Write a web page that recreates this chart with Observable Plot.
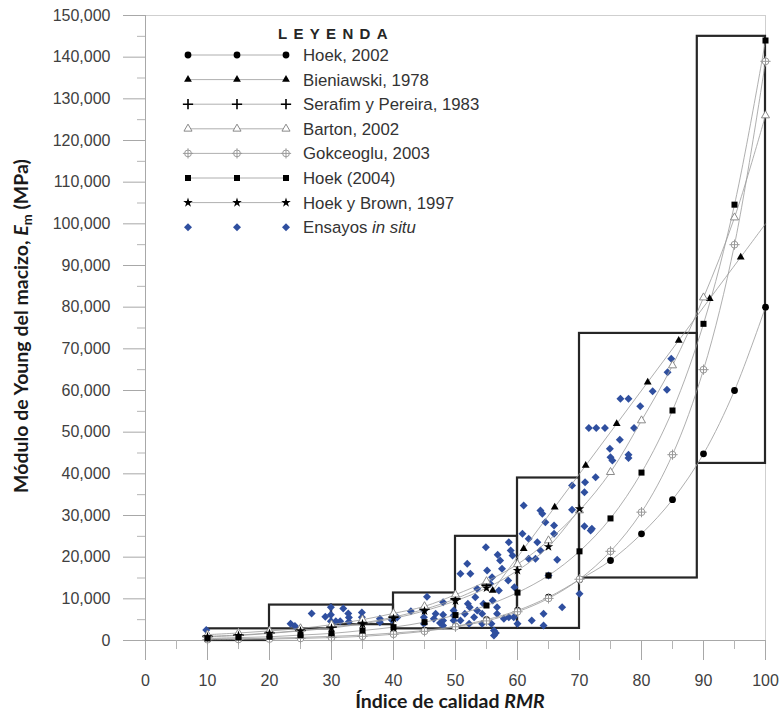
<!DOCTYPE html>
<html><head><meta charset="utf-8">
<script src="https://cdn.jsdelivr.net/npm/d3@7"></script>
<script src="https://cdn.jsdelivr.net/npm/@observablehq/plot@0.6"></script>
<style>
html,body{margin:0;padding:0;background:#fff;}
#chart{width:781px;height:713px;}
</style></head><body><div id="chart"></div>
<script>
// ---------- DATA ----------
const rmr = [10,15,20,25,30,35,40,45,50,55,60,65,70,75,80,85,90,95,100];
const hoek2002 = [300,400,550,750,1000,1300,1800,2400,3400,5000,7200,10400,14600,19200,25600,33800,44800,60000,80000];
const bieniawskiX = [56,61,66,71,76,81,86,91,96,100];
const bieniawski1978 = [12000,22000,32000,42000,52000,62000,72000,82000,92000,100000];
const serafimX = [10,15,20,25,30,35,40,45,50,55];
const serafim1983 = [1000,1300,1800,2400,3200,4200,5600,7500,10000,13300];
const barton2002 = [1400,1800,2300,2900,3800,5000,6500,8200,11000,14200,18300,24000,31200,40400,52800,66000,82300,101500,126000];
const gokceoglu2003 = [200,250,350,500,700,1000,1500,2200,3300,4700,6900,10100,14700,21400,30800,44600,65000,95000,139000];
const hoek2004 = [500,700,900,1300,1700,2400,3200,4400,6100,8400,11500,15600,21400,29300,40300,55200,76000,104600,144000];
const hoekBrownX = [10,15,20,25,30,35,40,45,50,55,60,65,70];
const hoekBrown1997 = [900,1200,1700,2300,3000,4000,5300,7100,9500,12600,16800,22500,31600];

// In-situ tests: [RMR, Em]
const insituRMR = [9.8,23.4,24.1,26.8,29,29.9,29.9,29.9,30.7,31.4,31.9,32.7,32.8,32.8,34.9,34.9,34.9,37.8,37.8,39.7,40.6,42.8,45.4,44.9,44.9,44.9,46.5,46.8,47.5,48,48,48,48,49.7,49.7,49.7,
 50.8,51.9,52.4,52,52.3,50.8,52.2,53.2,53.5,54.9,55.1,55.9,55.6,56.8,57.2,57.5,56,56.7,56.7,54.3,54.3,55.8,56.2,56.2,56.5,57.8,58.6,59.4,58.6,58.9,59.2,60,51.5,53,53.5,54.5,58.5,59.5,57,
 60.8,61,61.8,61.8,62.9,63.2,62.3,63.7,64,64.5,63.7,64.2,64.2,65,65.9,65.9,66.4,67.2,68.8,68.8,70,
 70.9,70.8,72.6,70.8,71.8,72,71.5,72.7,74.1,74.9,75,75.3,76.5,77.9,77.9,76.6,77.9,78.8,79.8,81.8,84.1,84.2,84.8];
const insituEm = [2500,4000,3500,6500,5700,8000,6200,4600,4600,4600,7700,6500,5500,4500,6700,5600,4500,5200,4400,5000,5500,7000,10500,7200,5600,4000,5200,6400,4200,9200,6200,4800,3600,7200,6000,4800,
 16000,18400,16000,8800,8000,4800,4000,10400,12400,22400,16800,15200,13600,20600,19200,17200,9600,8000,6400,6400,4000,4000,2400,1200,1800,5200,5600,5600,23600,21600,20400,4000,6400,5600,7200,8800,14400,12800,12000,
 25600,32400,24400,19600,19600,23600,4800,31200,30400,28400,21600,6400,3600,15600,27600,25600,19400,8000,37200,31400,11200,
 38000,35600,39200,27400,26400,26800,51000,51000,51000,46000,44000,43200,48200,44600,43800,58000,58000,51000,56200,59800,60200,64400,67600];

// Range boxes per RMR class
const boxFrom = [10,20,30,40,50,60,70,89];
const boxTo   = [20,30,40,50,60,70,89,100];
const boxLow  = [0,2800,3800,2800,2900,2900,15000,42500];
const boxHigh = [2800,8500,8500,11400,25000,39000,73700,145000];

const xTicks = [0,10,20,30,40,50,60,70,80,90,100];
const yTicks = [0,10000,20000,30000,40000,50000,60000,70000,80000,90000,100000,110000,120000,130000,140000,150000];

// ---------- BUILD ----------
const mk = (name, xs, ys) => xs.map((x,i)=>({series:name, x, y:ys[i]}));
const S = {
  h02: mk("Hoek, 2002", rmr, hoek2002),
  bie: mk("Bieniawski, 1978", bieniawskiX, bieniawski1978),
  ser: mk("Serafim y Pereira, 1983", serafimX, serafim1983),
  bar: mk("Barton, 2002", rmr, barton2002),
  gok: mk("Gokceoglu, 2003", rmr, gokceoglu2003),
  h04: mk("Hoek (2004)", rmr, hoek2004),
  hb:  mk("Hoek y Brown, 1997", hoekBrownX, hoekBrown1997)
};
const allLines = Object.values(S).flat();
const insitu = insituRMR.map((x,i)=>({x, y:insituEm[i]}));
const boxes = boxFrom.map((x1,i)=>({x1, x2:boxTo[i], y1:boxLow[i], y2:boxHigh[i]}));

const BLUE = "#2f4f9f";
const plot = Plot.plot({
  width: 781, height: 713,
  marginLeft: 145, marginRight: 16, marginTop: 15, marginBottom: 73,
  x: {domain:[0,100], label:null},
  y: {domain:[0,150000], label:null},
  style: {fontFamily: "'Liberation Sans', Arial, sans-serif", color:"#404040", background:"#fff", overflow:"visible"},
  marks: [
    Plot.ruleY([150000], {stroke:"#cfcfcf", strokeWidth:1}),
    Plot.ruleX([100], {y1:0, y2:150000, stroke:"#cfcfcf", strokeWidth:1}),
    Plot.ruleX([0], {y1:0, y2:150000, stroke:"#a8a8a8", strokeWidth:1}),
    Plot.ruleY([0], {x1:0, x2:100, stroke:"#a8a8a8", strokeWidth:1}),
    Plot.axisX({ticks:xTicks, tickSize:20, tickPadding:14, stroke:"#a8a8a8", fill:"#404040", fontSize:16, label:null, tickFormat:d=>String(d)}),
    Plot.axisX({ticks:[5,15,25,35,45,55,65,75,85,95], tickSize:9, stroke:"#b5b5b5", label:null, tickFormat:()=>""}),
    Plot.axisY({ticks:yTicks, tickSize:22, tickPadding:13, stroke:"#a8a8a8", fill:"#404040", fontSize:16, label:null, tickFormat:d3.format(",")}),
    Plot.axisY({ticks:yTicks.slice(0,-1).map(v=>v+5000), tickSize:8, stroke:"#b5b5b5", label:null, tickFormat:()=>""}),
    Plot.rect(boxes, {x1:"x1", x2:"x2", y1:"y1", y2:"y2", fill:"none", stroke:"#262626", strokeWidth:2.2}),
    Plot.dot(insitu, {x:"x", y:"y", symbol:"diamond2", r:3.6, fill:BLUE, stroke:"none"}),
    Plot.line(allLines, {x:"x", y:"y", z:"series", stroke:"#9a9a9a", strokeWidth:0.8, curve:"catmull-rom"}),
    Plot.dot(S.h02, {x:"x", y:"y", symbol:"circle", r:3.4, fill:"#000"}),
    Plot.dot(S.bie.filter(d=>d.x<100), {x:"x", y:"y", symbol:"triangle", r:2.9, fill:"#000"}),
    Plot.dot(S.ser, {x:"x", y:"y", symbol:"plus", r:3.4, stroke:"#000", strokeWidth:1.6}),
    Plot.dot(S.bar, {x:"x", y:"y", symbol:"triangle", r:3.0, fill:"#fff", stroke:"#8a8a8a", strokeWidth:1}),
    Plot.dot(S.gok, {x:"x", y:"y", symbol:"circle", r:3.4, fill:"#fff", stroke:"#9a9a9a", strokeWidth:1}),
    Plot.dot(S.gok, {x:"x", y:"y", symbol:"plus", r:3.4, stroke:"#9a9a9a", strokeWidth:1}),
    Plot.dot(S.h04, {x:"x", y:"y", symbol:"square", r:3.4, fill:"#000"}),
    Plot.dot(S.hb,  {x:"x", y:"y", symbol:"star", r:3.0, fill:"#000"})
  ]
});
document.getElementById("chart").appendChild(plot);

// ---------- LEGEND & TITLES ----------
const svg = d3.select(plot);
const sym = (type, r) => d3.symbol().type(type).size(Math.PI*r*r)();
const legend = [
  {label:"Hoek, 2002", parts:[{t:d3.symbolCircle, r:3.4, fill:"#000", stroke:"none"}]},
  {label:"Bieniawski, 1978", parts:[{t:d3.symbolTriangle, r:2.9, fill:"#000", stroke:"none"}]},
  {label:"Serafim y Pereira, 1983", parts:[{t:d3.symbolPlus, r:3.4, fill:"none", stroke:"#000", sw:1.6}]},
  {label:"Barton, 2002", parts:[{t:d3.symbolTriangle, r:3.0, fill:"#fff", stroke:"#8a8a8a", sw:1}]},
  {label:"Gokceoglu, 2003", parts:[{t:d3.symbolCircle, r:3.4, fill:"#fff", stroke:"#9a9a9a", sw:1},{t:d3.symbolPlus, r:3.4, fill:"none", stroke:"#9a9a9a", sw:1}]},
  {label:"Hoek (2004)", parts:[{t:d3.symbolSquare, r:3.4, fill:"#000", stroke:"none"}]},
  {label:"Hoek y Brown, 1997", parts:[{t:d3.symbolStar, r:3.0, fill:"#000", stroke:"none"}]},
  {label:"Ensayos ", italic:"in situ", noLine:true, parts:[{t:d3.symbolDiamond2, r:3.6, fill:BLUE, stroke:"none"}]}
];
const lg = svg.append("g").attr("font-family","'Liberation Sans', Arial, sans-serif").attr("text-anchor","start");
lg.append("text").attr("x",278).attr("y",39).attr("font-size",15).attr("font-weight","bold")
  .attr("letter-spacing","6.3px").attr("fill","#262626").text("LEYENDA");
const mx = [188,237,286];
legend.forEach((it,i)=>{
  const y = 55 + i*24.6;
  if(!it.noLine) lg.append("line").attr("x1",mx[0]).attr("x2",mx[2]).attr("y1",y).attr("y2",y)
     .attr("stroke","#9a9a9a").attr("stroke-width",0.8);
  mx.forEach(x=>it.parts.forEach(p=>{
    lg.append("path").attr("d",sym(p.t,p.r)).attr("transform",`translate(${x},${y})`)
      .attr("fill",p.fill).attr("stroke",p.stroke).attr("stroke-width",p.sw||0);
  }));
  const t = lg.append("text").attr("x",303).attr("y",y+6).attr("font-size",16.8).attr("fill","#333");
  t.append("tspan").text(it.label);
  if(it.italic) t.append("tspan").attr("font-style","italic").text(it.italic);
});

const titleFont = "Lato, 'Open Sans', sans-serif";
const xt = svg.append("text").attr("x",450).attr("y",708).attr("text-anchor","middle")
  .attr("font-family",titleFont).attr("font-weight","bold").attr("font-size",19.5).attr("fill","#1a1a1a");
xt.append("tspan").text("Índice de calidad ");
xt.append("tspan").attr("font-style","italic").text("RMR");

const yt = svg.append("text").attr("transform","translate(28,326) rotate(-90)").attr("text-anchor","middle")
  .attr("font-family",titleFont).attr("font-weight","bold").attr("font-size",19.5).attr("fill","#1a1a1a");
yt.append("tspan").text("Módulo de Young del macizo, ");
yt.append("tspan").attr("font-style","italic").text("E");
yt.append("tspan").attr("dy",4).attr("font-size",13).text("m");
yt.append("tspan").attr("dy",-4).text(" (MPa)");
</script></body></html>
